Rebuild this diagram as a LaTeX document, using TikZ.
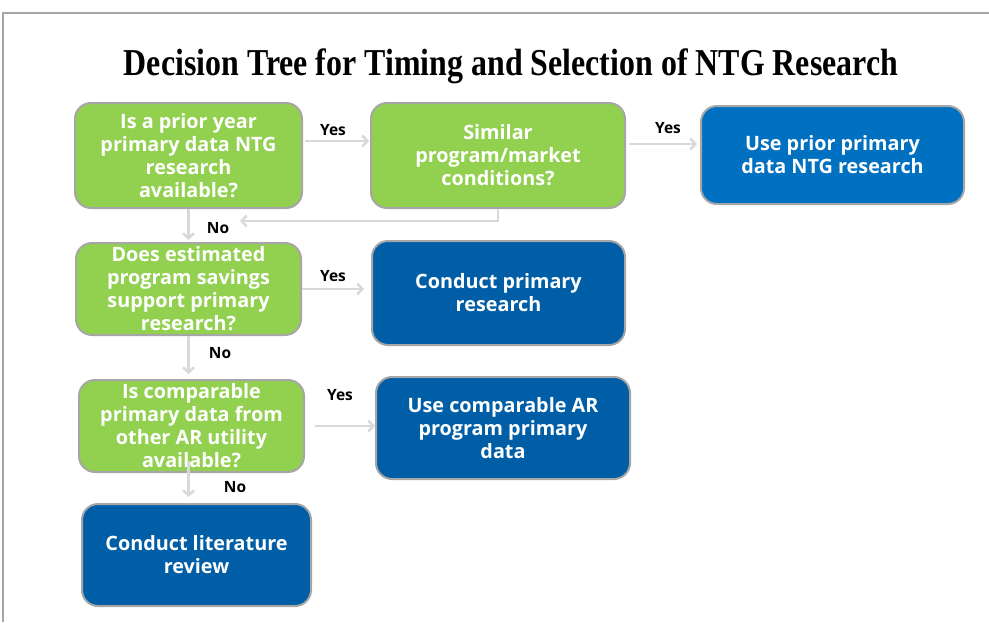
\documentclass[tikz,border=0pt]{standalone}
\usepackage{fontspec}
\setmainfont{Liberation Serif}
\newfontfamily\boxfont{Open Sans}
\usetikzlibrary{arrows.meta}
\definecolor{qgreen}{RGB}{146,208,80}
\definecolor{rblue}{RGB}{0,112,192}
\definecolor{rdblue}{RGB}{0,94,166}
\definecolor{edgegray}{RGB}{166,166,166}
\definecolor{arrgray}{RGB}{217,217,217}

\begin{document}
\begin{tikzpicture}[
	x = 1pt, y = -1pt,
	every node/.style = {align = center, inner sep = 0pt},
	question/.style = {draw = edgegray, line width = 2pt, fill = qgreen,
		rounded corners = 16pt, text = white,
		font = \boxfont\bfseries\fontsize{19.8}{23}\selectfont},
	outcome/.style = {question, fill = rdblue},
	link/.style = {draw = arrgray, line width = 2.5pt,
		-{Straight Barb[length = 5pt, width = 11pt]}},
	answer/.style = {font = \boxfont\bfseries\fontsize{15.5}{18}\selectfont}
	]
	\useasboundingbox (0,0) rectangle (989,622);
	\draw[edgegray, line width = 1.2pt] (989,13) -- (3,13) -- (3,622);
	\node[font = \bfseries\fontsize{38}{44}\selectfont] (title) at (511,66)
		{\scalebox{0.84}[1]{Decision Tree for Timing and Selection of NTG Research}};

	% first row
	\node[question, minimum width = 227pt, minimum height = 105pt] (q1) at (188.5,155.5)
		{Is a prior year\\primary data NTG\\research\\available?};
	\node[question, minimum width = 254pt, minimum height = 105pt] (q2) at (498,155.5)
		{Similar\\program/market\\conditions?};
	\node[outcome, fill = rblue, minimum width = 263pt, minimum height = 98pt] (r1) at (832.5,155)
		{Use prior primary\\data NTG research};
	% second row
	\node[question, minimum width = 225pt, minimum height = 92pt] (q3) at (188.5,289)
		{Does estimated\\program savings\\support primary\\research?};
	\node[outcome, minimum width = 253pt, minimum height = 104pt] (r2) at (498.5,293)
		{Conduct primary\\research};
	% third row
	\node[question, minimum width = 225pt, minimum height = 92pt] (q4) at (191.5,426)
		{Is comparable\\primary data from\\other AR utility\\available?};
	\node[outcome, minimum width = 254pt, minimum height = 102pt] (r3) at (503,428)
		{Use comparable AR\\program primary\\data};
	% last row
	\node[outcome, minimum width = 229pt, minimum height = 102pt] (r4) at (196.5,555)
		{Conduct literature\\review};

	\coordinate (back) at (240,221);

	\draw[link, shorten <= 2pt, shorten >= 1pt] ([yshift = 14.5pt]q1.east) -- ([yshift = 14.5pt]q1.east -| q2.west);
	\draw[link, shorten <= 3pt, shorten >= 3pt] ([yshift = 11.5pt]q2.east) -- ([yshift = 11.5pt]q2.east -| r1.west);
	\draw[link] (q2.south) |- (back);
	\draw[link, shorten >= 2pt] (q1.south) -- (q3.north);
	\draw[link, shorten >= 7pt] (q3.east) -- (q3.east -| r2.west);
	\draw[link, shorten >= 5pt] (q3.south) -- (q3.south |- q4.north);
	\draw[link, shorten <= 10pt] (q4.east) -- (q4.east -| r3.west);
	\draw[link, shorten <= -12pt, shorten >= 6pt] (q3.south |- q4.south) -- (q3.south |- r4.north);

	\node[answer] (y1) at (333,130) {Yes};
	\node[answer] (y2) at (668,128) {Yes};
	\node[answer] (n1) at (218,228) {No};
	\node[answer] (y3) at (333,276) {Yes};
	\node[answer] (n2) at (220,353) {No};
	\node[answer] (y4) at (340,395) {Yes};
	\node[answer] (n3) at (235,487) {No};
\end{tikzpicture}
\end{document}
